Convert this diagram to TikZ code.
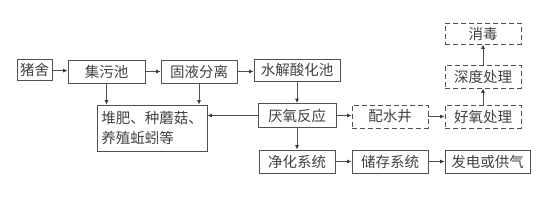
\documentclass[tikz,border=0pt]{standalone}
\usepackage{fontspec}
\setmainfont{Noto Sans CJK SC}
\usetikzlibrary{arrows.meta}
\definecolor{linea}{HTML}{505050}
\definecolor{punta}{HTML}{5A2A2A}
\begin{document}
\begin{tikzpicture}[x=1pt,y=-1pt]
		
		% 样式
		\tikzset{
			caja/.style={
				draw=linea,
				thick,
				inner sep=0pt,
				minimum height=23pt,
				text=black!75,
				font=\fontsize{14.5}{20}\selectfont
			},
			cajad/.style={
				caja,
				dash pattern=on 5pt off 3pt
			},
			flecha/.style={
				draw=linea,
				thick,
				-{Latex[length=4.5pt,width=4pt,color=punta]}
			}
		}
		
		\useasboundingbox (0,0) rectangle (554,214);
		
		% 节点
		\node[caja,minimum width=35pt,minimum height=21pt] (zs) at (34.5,70) {猪舍};
		\node[caja,minimum width=77pt] (jw) at (106.5,71.5) {集污池};
		\node[caja,minimum width=76pt] (gy) at (199,71.5) {固液分离};
		\node[caja,minimum width=86pt,minimum height=22pt] (sj) at (297,70) {水解酸化池};
		\node[caja,minimum width=110pt,minimum height=46pt,align=left] (df) at (152,128)
			{堆肥、种蘑菇、\\养殖蚯蚓等};
		\node[caja,minimum width=78pt,minimum height=24pt] (yy) at (297,115.5) {厌氧反应};
		\node[cajad,minimum width=76pt] (ps) at (390,116.5) {配水井};
		\node[cajad,minimum width=76pt] (hy) at (483,116.5) {好氧处理};
		\node[cajad,minimum width=76pt] (sd) at (483,76.5) {深度处理};
		\node[cajad,minimum width=76pt,minimum height=21pt] (xd) at (483,33.5) {消毒};
		\node[caja,minimum width=76pt] (jh) at (297,161.5) {净化系统};
		\node[caja,minimum width=76pt] (cc) at (390,161.5) {储存系统};
		\node[caja,minimum width=85pt] (fd) at (487.5,161.5) {发电或供气};
		
		% 连线
		\draw[flecha] (zs) -- (jw);
		\draw[flecha] (jw) -- (gy);
		\draw[flecha] (gy) -- (gy -| sj.west);
		\draw[flecha] (jw) -- (jw |- df.north);
		\draw[flecha] (gy) -- (gy |- df.north);
		\draw[flecha] (sj) -- (yy);
		\draw[flecha] (yy) -- (yy -| df.east);
		\draw[flecha] (yy) -- (yy -| ps.west);
		\draw[flecha] (ps) -- (hy);
		\draw[flecha] (hy) -- (sd);
		\draw[flecha] (sd) -- (xd);
		\draw[flecha] (yy) -- (jh);
		\draw[flecha] (jh) -- (cc);
		\draw[flecha] (cc) -- (cc -| fd.west);
		
	\end{tikzpicture}
\end{document}
